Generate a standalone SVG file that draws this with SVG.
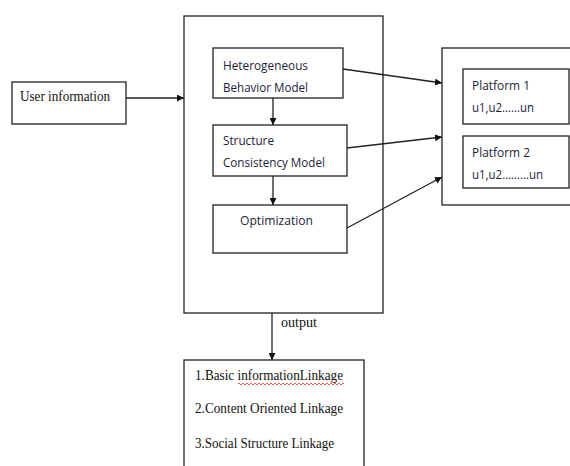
<svg xmlns="http://www.w3.org/2000/svg" width="570" height="466" viewBox="0 0 570 466">
<style>
.box{fill:#fff;stroke:#222;stroke-width:1.3}
.ln{stroke:#222;stroke-width:1.3;fill:none}
.tm{font-family:"Liberation Serif",serif;font-size:15px;fill:#111}
.sn{font-family:"Open Sans","Liberation Sans",sans-serif;font-size:13.5px;fill:#1e1e3a}
</style>
<defs>
<marker id="ah" viewBox="0 0 10 10" refX="10" refY="5" markerWidth="7" markerHeight="7" orient="auto" markerUnits="userSpaceOnUse">
<path d="M0,0 L10,5 L0,10 z" fill="#111"/>
</marker>
</defs>
<rect width="570" height="466" fill="#fff"/>
<g id="main">
<rect class="box" x="184" y="16" width="199" height="297"/>
</g>
<g id="user">
<rect class="box" x="12" y="82" width="114" height="42"/>
<text class="tm" x="20" y="101" textLength="90" lengthAdjust="spacingAndGlyphs">User information</text>
</g>
<g id="hbm">
<rect class="box" x="213" y="48" width="130" height="50"/>
<text class="sn" x="223" y="70" textLength="85" lengthAdjust="spacingAndGlyphs">Heterogeneous</text>
<text class="sn" x="223" y="92" textLength="85" lengthAdjust="spacingAndGlyphs">Behavior Model</text>
</g>
<g id="scm">
<rect class="box" x="213" y="125" width="134" height="51"/>
<text class="sn" x="223" y="145" textLength="51" lengthAdjust="spacingAndGlyphs">Structure</text>
<text class="sn" x="223" y="167" textLength="102" lengthAdjust="spacingAndGlyphs">Consistency Model</text>
</g>
<g id="opt">
<rect class="box" x="213" y="205" width="134" height="48"/>
<text class="sn" x="240" y="225" textLength="73" lengthAdjust="spacingAndGlyphs">Optimization</text>
</g>
<g id="platforms">
<rect class="box" x="442" y="48" width="140" height="157"/>
</g>
<g id="p1">
<rect class="box" x="463" y="69" width="106" height="55"/>
<text class="sn" x="472" y="90" textLength="58" lengthAdjust="spacingAndGlyphs">Platform 1</text>
<text class="sn" x="472" y="112" textLength="62" lengthAdjust="spacingAndGlyphs">u1,u2……un</text>
</g>
<g id="p2">
<rect class="box" x="463" y="136" width="106" height="52"/>
<text class="sn" x="472" y="157" textLength="58" lengthAdjust="spacingAndGlyphs">Platform 2</text>
<text class="sn" x="472" y="179" textLength="71" lengthAdjust="spacingAndGlyphs">u1,u2………un</text>
</g>
<g id="outputbox">
<rect class="box" x="184" y="360" width="180" height="120"/>
<text class="tm" x="195" y="380" textLength="148" lengthAdjust="spacingAndGlyphs">1.Basic informationLinkage</text>
<path d="M238,384 q1,-2 2,0 t2,0 t2,0 t2,0 t2,0 t2,0 t2,0 t2,0 t2,0 t2,0 t2,0 t2,0 t2,0 t2,0 t2,0 t2,0 t2,0 t2,0 t2,0 t2,0 t2,0 t2,0 t2,0 t2,0 t2,0 t2,0 t2,0 t2,0 t2,0 t2,0 t2,0 t2,0 t2,0 t2,0 t2,0 t2,0 t2,0 t2,0 t2,0 t2,0 t2,0 t2,0 t2,0 t2,0 t2,0 t2,0 t2,0 t2,0 t2,0 t2,0 t2,0 t2,0 t2,0" fill="none" stroke="#e33" stroke-width="0.8"/>
<text class="tm" x="195" y="413" textLength="148" lengthAdjust="spacingAndGlyphs">2.Content Oriented Linkage</text>
<text class="tm" x="195" y="448" textLength="139" lengthAdjust="spacingAndGlyphs">3.Social Structure Linkage</text>
</g>
<g id="connectors">
<line class="ln" x1="126" y1="98" x2="184" y2="98" marker-end="url(#ah)"/>
<line class="ln" x1="273" y1="98" x2="273" y2="125" marker-end="url(#ah)"/>
<line class="ln" x1="273" y1="176" x2="273" y2="205" marker-end="url(#ah)"/>
<line class="ln" x1="343" y1="69" x2="442" y2="83" marker-end="url(#ah)"/>
<line class="ln" x1="347" y1="148" x2="442" y2="137" marker-end="url(#ah)"/>
<line class="ln" x1="347" y1="228" x2="442" y2="177" marker-end="url(#ah)"/>
<line class="ln" x1="272" y1="313" x2="272" y2="360" marker-end="url(#ah)"/>
<text class="tm" x="281" y="327" textLength="36" lengthAdjust="spacingAndGlyphs">output</text>
</g>
</svg>
